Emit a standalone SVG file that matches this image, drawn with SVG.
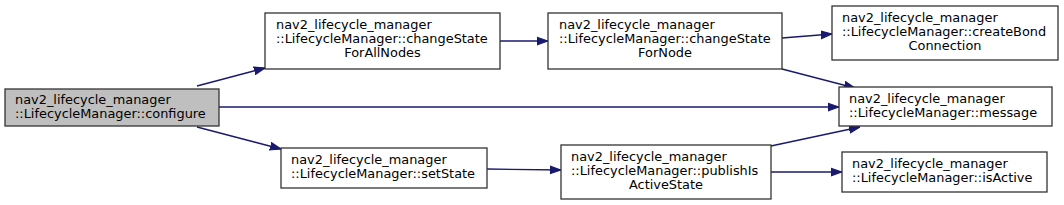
<svg xmlns="http://www.w3.org/2000/svg" width="1064" height="205" viewBox="0 0 1064 205">
<defs>
<style>
.n rect{fill:#fff;stroke:#333;stroke-width:1.3}
.n text{font-family:"DejaVu Sans",sans-serif;font-size:12.9px;fill:#000}
.m{text-anchor:middle}
.e path{fill:none;stroke:#191970;stroke-width:1.3}
</style>
<marker id="a" viewBox="0 0 10 10" refX="10" refY="5" markerWidth="11" markerHeight="11" markerUnits="userSpaceOnUse" orient="auto">
<path d="M0,1.5 L10,5 L0,8.5 Z" fill="#191970" stroke="#191970"/>
</marker>
</defs>
<rect width="1064" height="205" fill="#fff"/>
<g class="e">
<path d="M197,86 L265,68" marker-end="url(#a)"/>
<path d="M219,107 L839,107" marker-end="url(#a)"/>
<path d="M197,127 L281,149" marker-end="url(#a)"/>
<path d="M500,41 L548,41" marker-end="url(#a)"/>
<path d="M782,38 L832,34" marker-end="url(#a)"/>
<path d="M782,69 L855,88" marker-end="url(#a)"/>
<path d="M487,169 L561,170" marker-end="url(#a)"/>
<path d="M771,146 L860,127" marker-end="url(#a)"/>
<path d="M771,172 L842,172" marker-end="url(#a)"/>
</g>
<g id="configure" class="n">
<rect x="5" y="89" width="214" height="37" style="fill:#bfbfbf"/>
<text x="15" y="104">nav2_lifecycle_manager</text>
<text x="15" y="118">::LifecycleManager::configure</text>
</g>
<g id="changeStateForAllNodes" class="n">
<rect x="265" y="13" width="235" height="56"/>
<text x="276" y="29">nav2_lifecycle_manager</text>
<text x="276" y="43">::LifecycleManager::changeState</text>
<text class="m" x="382.5" y="57">ForAllNodes</text>
</g>
<g id="changeStateForNode" class="n">
<rect x="548" y="13" width="234" height="56"/>
<text x="559" y="29">nav2_lifecycle_manager</text>
<text x="559" y="43">::LifecycleManager::changeState</text>
<text class="m" x="665" y="57">ForNode</text>
</g>
<g id="createBondConnection" class="n">
<rect x="832" y="6" width="226" height="54"/>
<text x="842" y="22">nav2_lifecycle_manager</text>
<text x="842" y="36">::LifecycleManager::createBond</text>
<text class="m" x="945" y="50">Connection</text>
</g>
<g id="message" class="n">
<rect x="839" y="87" width="213" height="39"/>
<text x="849" y="103">nav2_lifecycle_manager</text>
<text x="849" y="117">::LifecycleManager::message</text>
</g>
<g id="setState" class="n">
<rect x="281" y="148" width="206" height="40"/>
<text x="291" y="164">nav2_lifecycle_manager</text>
<text x="291" y="178">::LifecycleManager::setState</text>
</g>
<g id="publishIsActiveState" class="n">
<rect x="561" y="145" width="210" height="54"/>
<text x="571" y="161">nav2_lifecycle_manager</text>
<text x="571" y="175">::LifecycleManager::publishIs</text>
<text class="m" x="666" y="189">ActiveState</text>
</g>
<g id="isActive" class="n">
<rect x="842" y="152" width="205" height="40"/>
<text x="852" y="168">nav2_lifecycle_manager</text>
<text x="852" y="182">::LifecycleManager::isActive</text>
</g>
</svg>
